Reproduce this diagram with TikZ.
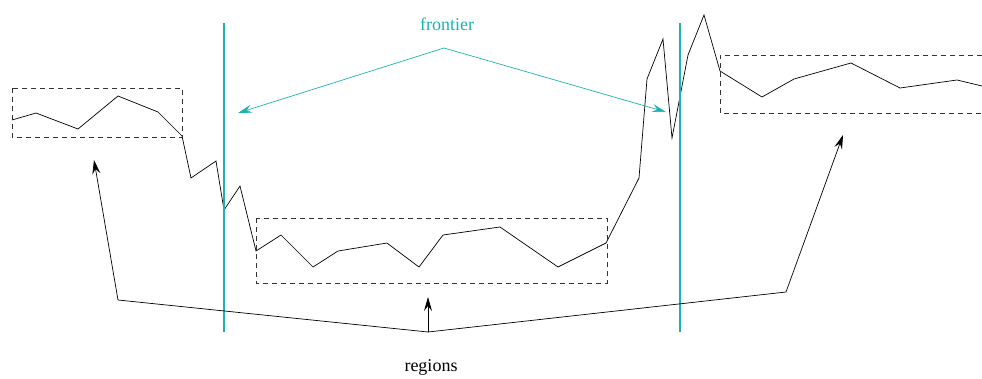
\documentclass[tikz,border=0pt]{standalone}
\usepackage{fontspec}
\setmainfont{Liberation Serif}
\usetikzlibrary{arrows.meta}
\definecolor{frontcol}{RGB}{28,178,178}
\tikzset{
  curve/.style={line width=0.7pt, line join=miter},
  regionbox/.style={dashed, dash pattern=on 5pt off 4pt, line width=0.7pt, black!80},
  frontline/.style={frontcol, line width=1.3pt},
  frontarrow/.style={frontcol, line width=0.7pt, -{Stealth[length=14pt,width=8pt,inset=5pt]}},
  regarrow/.style={black, line width=0.7pt, -{Stealth[length=14pt,width=8pt,inset=5pt]}},
  lbl/.style={font=\fontsize{18}{20}\selectfont, inner sep=0pt}
}
\begin{document}
\begin{tikzpicture}[x=1pt,y=-1pt]
\useasboundingbox (0,0) rectangle (982,378);
% curve
\draw[curve] (12,120) -- (36,113) -- (78,129) -- (118,96) -- (158,112) -- (182,136)
 -- (191,178) -- (216,161) -- (224,210) -- (240,186) -- (256,251) -- (281,235)
 -- (313,267) -- (338,251) -- (387,243) -- (419,267) -- (443,235) -- (500,227)
 -- (558,267) -- (606,243) -- (639,178) -- (647,79) -- (663,39) -- (672,138)
 -- (688,55) -- (704,15) -- (720,71) -- (762,97) -- (794,79) -- (851,63)
 -- (900,88) -- (957,80) -- (982,86);
% region boxes
\draw[regionbox] (12,88) rectangle (182,137);
\draw[regionbox] (256,218) rectangle (607,283);
\draw[regionbox] (982,55) -- (720,55) -- (720,113) -- (982,113);
% frontier lines
\coordinate (f1t) at (224,23); \coordinate (f1b) at (224,332);
\coordinate (f2t) at (680,23); \coordinate (f2b) at (680,332);
\draw[frontline] (f1t) -- (f1b);
\draw[frontline] (f2t) -- (f2b);
% frontier label and arrows
\node[lbl, text=frontcol] (front) at (447,24) {frontier};
\coordinate (fapex) at (444,48);
\coordinate (fl) at (238,113);
\coordinate (fr) at (666,112);
\draw[frontarrow] (fapex) -- (fl);
\draw[frontarrow] (fapex) -- (fr);
% regions label and arrows
\node[lbl] (reg) at (431,367) {regions};
\coordinate (rapex) at (428,332);
\coordinate (rl) at (118,300);
\coordinate (rr) at (786,292);
\coordinate (box1) at (94,160);
\coordinate (box2) at (428,297);
\coordinate (box3) at (843,135);
\draw[regarrow] (rapex) -- (rl) -- (box1);
\draw[regarrow] (rapex) -- (box2);
\draw[regarrow] (rapex) -- (rr) -- (box3);
\end{tikzpicture}
\end{document}
